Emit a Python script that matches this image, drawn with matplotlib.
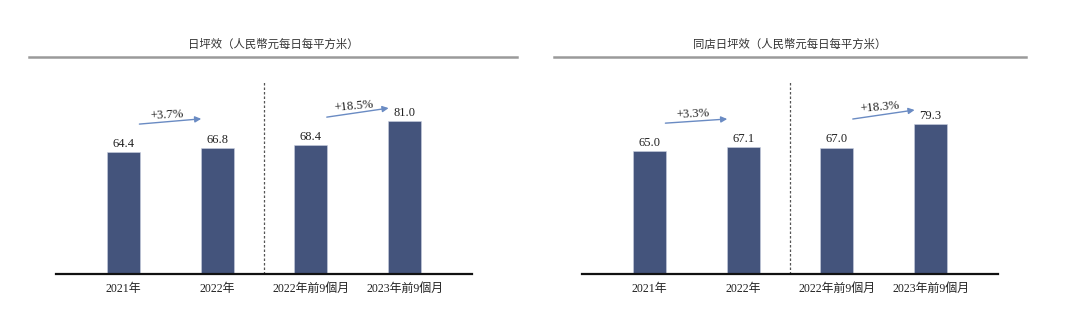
import matplotlib
matplotlib.use("Agg")
import matplotlib.pyplot as plt
from matplotlib.lines import Line2D

plt.rcParams['font.family'] = ['Liberation Serif', 'Noto Sans CJK TC']

# data
categories = ['2021年', '2022年', '2022年前9個月', '2023年前9個月']
titles = ['日坪效（人民幣元每日每平方米）', '同店日坪效（人民幣元每日每平方米）']
values_all = [64.4, 66.8, 68.4, 81.0]
values_same = [65.0, 67.1, 67.0, 79.3]
growth_all = ['+3.7%', '+18.5%']
growth_same = ['+3.3%', '+18.3%']

bar_color = '#44547c'
arrow_color = '#6a8bc3'

W, H = 1080, 335
fig = plt.figure(figsize=(W / 100, H / 100), dpi=100)


def draw_panel(x0, rule, title, values, growth, arrow_y):
    # axes spanning the baseline
    ax = fig.add_axes([x0 / W, (H - 273.5) / H, 416 / W, 213.5 / H])
    xs = range(len(values))
    bars = ax.bar(xs, values, width=0.35, color=bar_color, edgecolor='#c9cfe0', linewidth=0.4)
    for b, v in zip(bars, values):
        ax.annotate(f'{v:.1f}', (b.get_x() + b.get_width() / 2, v), xytext=(0, 1.5),
                    textcoords='offset points', ha='center', va='bottom', fontsize=9, color='#222222')
    ax.set_xlim(-0.72, 3.72)
    ax.set_ylim(0, 113.6)
    for s in ['top', 'right', 'left']:
        ax.spines[s].set_visible(False)
    ax.spines['bottom'].set_linewidth(1.6)
    ax.spines['bottom'].set_color('#111111')
    ax.set_yticks([])
    ax.set_xticks(list(xs))
    ax.set_xticklabels(categories, fontsize=8.6, color='#222222')
    ax.tick_params(axis='x', length=0, pad=6.5)

    # dashed divider between full-year and nine-month figures
    ax.plot([1.5, 1.5], [0, 102], linestyle=(0, (2, 1.6)), color='#555555', lw=0.9)

    # growth arrows
    for k, (i, lab) in enumerate(zip([0, 2], growth)):
        y0, y1 = arrow_y[k]
        ax.annotate('', xy=(i + 0.83, y1), xytext=(i + 0.17, y0),
                    arrowprops=dict(arrowstyle='-|>', color=arrow_color, lw=1.0,
                                    mutation_scale=9, shrinkA=0, shrinkB=0))
        rot = 3 if k == 0 else 5
        ax.text(i + 0.46, (y0 + y1) / 2 + 3.6, lab, ha='center', va='center',
                fontsize=9, rotation=rot, color='#222222')

    # panel heading with grey rule
    fig.text((rule[0] + rule[1]) / 2 / W, (H - 44) / H, title, ha='center', va='center',
             fontsize=8.2, color='#333333')
    fig.add_artist(Line2D([rule[0] / W, rule[1] / W], [(H - 57) / H] * 2,
                          color='#9a9a9a', lw=1.8, transform=fig.transFigure))


draw_panel(56, (29, 517), titles[0], values_all, growth_all, [(79.5, 82.3), (83.2, 88.0)])
draw_panel(582, (554, 1026), titles[1], values_same, growth_same, [(80.0, 82.2), (82.2, 87.0)])

fig.savefig('out.png', dpi=100, facecolor='white')
